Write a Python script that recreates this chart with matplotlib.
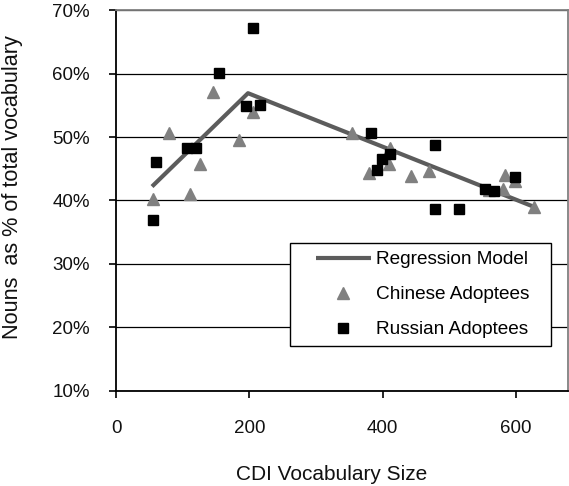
import matplotlib
matplotlib.use('Agg')
import matplotlib.pyplot as plt
from matplotlib.ticker import PercentFormatter
from matplotlib.lines import Line2D
from matplotlib.legend_handler import HandlerLine2D

plt.rcParams['font.family'] = ['Liberation Sans', 'DejaVu Sans']
plt.rcParams['font.size'] = 13.5

# CDI vocabulary size vs. nouns as % of vocabulary
chinese_x = [55.5, 80, 111, 125.5, 146, 184, 205.5, 353.5, 380, 409, 411,
             442.5, 469, 560, 581, 584, 598.5, 627]
chinese_y = [40.2, 50.6, 41.1, 45.7, 57.1, 49.6, 53.9, 50.7, 44.4, 45.7, 48.3,
             43.9, 44.7, 41.6, 41.8, 44.0, 43.1, 38.9]

russian_x = [56, 60.5, 106.5, 119.5, 154, 194.5, 205, 216.5, 382, 391.5, 399,
             410.5, 478.5, 478.5, 514.5, 554, 567, 599]
russian_y = [37.0, 46.0, 48.3, 48.3, 60.1, 54.9, 67.2, 55.1, 50.7, 44.8, 46.5,
             47.4, 48.8, 38.7, 38.7, 41.8, 41.5, 43.7]

# piecewise regression fit (knot near 200 words)
model_x = [54, 198, 627]
model_y = [42.2, 56.9, 39.0]

fig = plt.figure(figsize=(5.69, 4.86), dpi=100)
ax = fig.add_axes([0.2039, 0.1955, 0.7943, 0.7839])

ax.plot(model_x, model_y, color='#5c5c5c', lw=3.0, solid_capstyle='butt',
        label='Regression Model', zorder=3)
ax.plot(chinese_x, chinese_y, ls='none', marker='^', ms=8.5, color='#808080',
        label='Chinese Adoptees', zorder=4)
ax.plot(russian_x, russian_y, ls='none', marker='s', ms=6.5, color='black',
        label='Russian Adoptees', zorder=5)

ax.set_xlim(0, 678)
ax.set_ylim(10, 70)
ax.set_xticks([0, 200, 400, 600])
ax.set_yticks([10, 20, 30, 40, 50, 60, 70])
ax.yaxis.set_major_formatter(PercentFormatter(decimals=0))
ax.grid(axis='y', color='black', lw=0.9)
ax.set_axisbelow(True)

for side in ['left', 'bottom']:
    ax.spines[side].set_color('black')
    ax.spines[side].set_linewidth(1.3)
for side in ['top', 'right']:
    ax.spines[side].set_color('#808080')
    ax.spines[side].set_linewidth(1.3)

ax.tick_params(direction='out', length=5, width=1.2, color='black',
               labelsize=13.5, labelcolor='#111111')
ax.tick_params(axis='x', pad=16)
ax.tick_params(axis='y', pad=14)

ax.set_xlabel('CDI Vocabulary Size', fontsize=15, color='#111111')
ax.xaxis.set_label_coords(0.476, -0.195)
ax.set_ylabel('Nouns  as % of total vocabulary', fontsize=15.6, color='#111111')
ax.yaxis.set_label_coords(-0.206, 0.535)

# legend handles indented from the left edge of the box
leg = ax.legend(loc='lower left', bbox_to_anchor=(0.385, 0.118, 0.577, 0.273),
                mode='expand', borderaxespad=0, fancybox=False, shadow=False,
                framealpha=1, edgecolor='black', handlelength=3.87,
                handletextpad=0.27, labelspacing=0.93, borderpad=0.4,
                fontsize=13.7, handler_map={Line2D: HandlerLine2D(xpad=0.94)})
leg.get_frame().set_linewidth(1.0)

fig.savefig('out.png', dpi=100)
